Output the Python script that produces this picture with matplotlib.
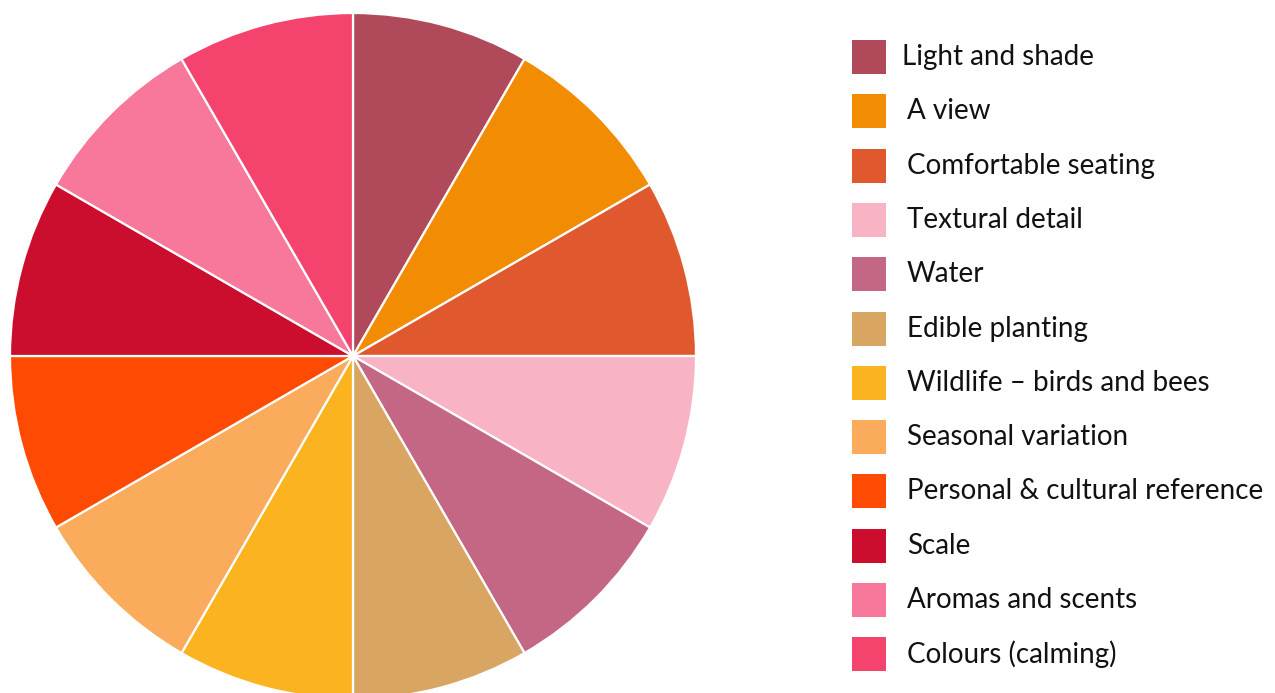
import matplotlib
matplotlib.use("Agg")
import matplotlib.pyplot as plt
from matplotlib.patches import Rectangle

labels = ["Light and shade", "A view", "Comfortable seating", "Textural detail",
          "Water", "Edible planting", "Wildlife \u2013 birds and bees",
          "Seasonal variation", "Personal & cultural reference", "Scale",
          "Aromas and scents", "Colours (calming)"]
values = [1, 1, 1, 1, 1, 1, 1, 1, 1, 1, 1, 1]
colors = ["#B04A5A", "#F28C02", "#E0592E", "#F8B4C4", "#C46785", "#D8A563",
          "#FBB41F", "#FBAB5C", "#FE4A02", "#CC0E2E", "#F7789A", "#F4436D"]

W, H = 1275, 693
fig = plt.figure(figsize=(W / 100, H / 100), dpi=100)
fig.patch.set_facecolor("white")

cx, cy, r = 353, 356, 343
ax = fig.add_axes([(cx - r) / W, (H - cy - r) / H, 2 * r / W, 2 * r / H])
ax.pie(values, colors=colors, startangle=90, counterclock=False, radius=1,
       wedgeprops=dict(edgecolor="white", linewidth=1.6))
ax.set_xlim(-1, 1)
ax.set_ylim(-1, 1)
ax.set_aspect("equal")
ax.axis("off")

# legend
y0, dy = 57, 54.3
sq = 34
for i, (lab, col) in enumerate(zip(labels, colors)):
    yc = y0 + i * dy
    fig.add_artist(Rectangle(((852) / W, (H - yc - sq / 2) / H), sq / W, sq / H,
                             transform=fig.transFigure, facecolor=col, edgecolor="none"))
    tx = 902 if i == 0 else 907
    fig.text(tx / W, (H - yc) / H, lab, fontsize=20, family="Lato",
             va="center", ha="left", color="#111111")

fig.savefig("out.png", dpi=100)
